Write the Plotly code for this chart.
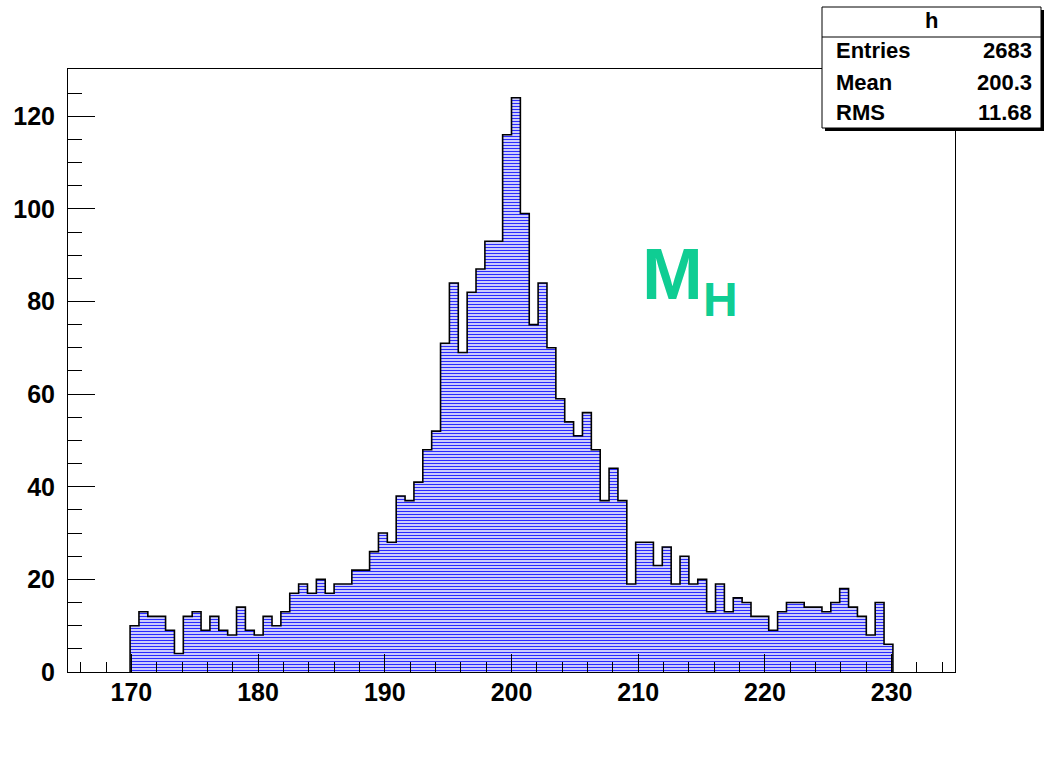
import plotly.graph_objects as go

# Histogram "h": 100 bins on [165, 235]; filled bins start at bin index 7
bin_lo = 165.0
bin_width = 0.7
first_bin = 7

counts = [
    10, 13, 12, 12, 9, 4, 12, 13, 9, 12, 9, 8, 14, 9, 8, 12,
    10, 13, 17, 19, 17, 20, 17, 19, 19, 22, 22, 26, 30, 28, 38, 37,
    41, 48, 52, 71, 84, 69, 82, 87, 93, 93, 116, 124,
    99, 75, 84, 70, 59, 54, 51, 56, 48, 37, 44, 37,
    19, 28, 28, 23, 27, 19, 25, 19, 20, 13, 19, 13, 16, 15, 12, 12,
    9, 13, 15, 15, 14, 14, 13, 15, 18, 14, 12, 8, 15, 6,
]

stats_title = "h"
stats_labels = ["Entries", "Mean", "RMS"]
stats_values = ["2683", "200.3", "11.68"]

x_ticks = [170, 180, 190, 200, 210, 220, 230]
y_ticks = [0, 20, 40, 60, 80, 100, 120]

W, H = 1044, 774
ML, MR, MT, MB = 68, 89, 69, 102
x_range = [165, 235]
y_range = [0, 1.05 * max(counts)]

FONT = "Liberation Sans, Arial, Helvetica, sans-serif"
GREEN = "#0fcd93"

# step outline of the histogram
edges = [bin_lo + bin_width * (first_bin + i) for i in range(len(counts) + 1)]
xs = [edges[0]] + edges[:-1] + [edges[-1], edges[-1]]
ys = [0] + counts + [counts[-1], 0]

fig = go.Figure()
fig.add_trace(go.Scatter(
    x=xs, y=ys, mode="lines", line=dict(shape="hv", color="black", width=1.6),
    fill="tozeroy", fillcolor="#dcdcfc",
    fillpattern=dict(shape="-", fgcolor="#2a2aff", bgcolor="#dedefc",
                     size=3, solidity=0.4, fillmode="replace"),
    hoverinfo="skip", showlegend=False,
))

fig.update_layout(
    width=W, height=H,
    margin=dict(l=ML, r=MR, t=MT, b=MB, pad=0),
    paper_bgcolor="white", plot_bgcolor="white",
    font=dict(family=FONT, color="black"),
    showlegend=False,
)

tickfont = dict(family=FONT, size=25, color="black", weight="bold")
fig.update_xaxes(
    range=x_range, tickvals=x_ticks, ticktext=[str(t) for t in x_ticks],
    ticks="inside", ticklen=18, tickwidth=1, tickcolor="black",
    minor=dict(ticks="inside", ticklen=10, tickwidth=1, tickcolor="black",
               tickvals=list(range(166, 236, 2))),
    showline=True, linecolor="black", linewidth=1, mirror=True,
    showgrid=False, zeroline=False, tickfont=tickfont, ticklabelstandoff=-2,
)
fig.update_yaxes(
    range=y_range, tickvals=y_ticks, ticktext=[str(t) for t in y_ticks],
    ticks="inside", ticklen=27, tickwidth=1, tickcolor="black",
    minor=dict(ticks="inside", ticklen=14, tickwidth=1, tickcolor="black",
               tickvals=list(range(5, 131, 5))),
    showline=True, linecolor="black", linewidth=1, mirror=True,
    showgrid=False, zeroline=False, tickfont=tickfont, ticklabelstandoff=7,
)


def px(xp):
    return (xp - ML) / (W - ML - MR)


def py(yp):
    return (H - MB - yp) / (H - MT - MB)


# statistics box with drop shadow
bl, br, bt, bb, sep = 822, 1041, 7, 128, 37
shapes = [
    dict(type="rect", xref="paper", yref="paper", x0=px(bl + 3), x1=px(br + 3),
         y0=py(bb + 3), y1=py(bt + 3), fillcolor="black", line=dict(width=0)),
    dict(type="rect", xref="paper", yref="paper", x0=px(bl), x1=px(br),
         y0=py(bb), y1=py(bt), fillcolor="white", line=dict(color="black", width=1)),
    dict(type="line", xref="paper", yref="paper", x0=px(bl), x1=px(br),
         y0=py(sep), y1=py(sep), line=dict(color="black", width=1)),
]
fig.update_layout(shapes=shapes)

sfont = dict(family=FONT, size=22, color="black", weight="bold")
fig.add_annotation(xref="paper", yref="paper", x=px((bl + br) / 2), y=py(21),
                   text=stats_title, showarrow=False, xanchor="center",
                   yanchor="middle", font=sfont)
row_y = [51, 82, 112]
for lab, val, yy in zip(stats_labels, stats_values, row_y):
    fig.add_annotation(xref="paper", yref="paper", x=px(834), y=py(yy), text=lab,
                       showarrow=False, xanchor="left", yanchor="middle", font=sfont)
    fig.add_annotation(xref="paper", yref="paper", x=px(1034), y=py(yy), text=val,
                       showarrow=False, xanchor="right", yanchor="middle", font=sfont)

# M_H label
fig.add_annotation(xref="paper", yref="paper", x=px(640), y=py(273), text="M",
                   showarrow=False, xanchor="left", yanchor="middle",
                   font=dict(family=FONT, size=73, color=GREEN, weight="bold"))
fig.add_annotation(xref="paper", yref="paper", x=px(701), y=py(299), text="H",
                   showarrow=False, xanchor="left", yanchor="middle",
                   font=dict(family=FONT, size=48, color=GREEN, weight="bold"))

fig.write_html("out.html")
